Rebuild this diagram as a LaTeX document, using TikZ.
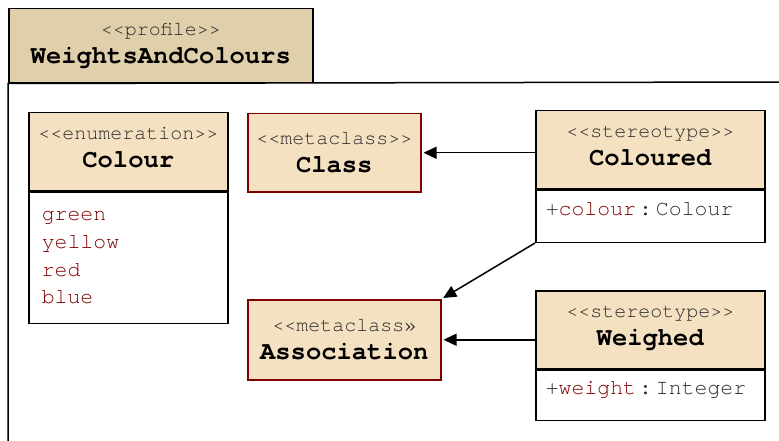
\documentclass[tikz,border=0pt]{standalone}
\usepackage{fontspec}
\setmonofont{TeX Gyre Cursor}
\usetikzlibrary{positioning,arrows.meta}

\definecolor{headfill}{HTML}{F4E1C1}
\definecolor{tabfill}{HTML}{E0CFAB}
\definecolor{metared}{HTML}{800000}
\definecolor{attrred}{HTML}{800000}
\definecolor{stereogrey}{HTML}{2A2A2A}

\newcommand{\stereo}[1]{{\fontsize{20}{28}\selectfont\color{stereogrey}#1}}
\newcommand{\uname}[1]{{\fontsize{25.5}{28}\selectfont\bfseries #1}}
\newcommand{\attr}[2]{{\color{stereogrey}+}\textcolor{attrred}{#1}{\color{stereogrey}\hspace{3pt}:\hspace{4pt}#2}}

\begin{document}
\begin{tikzpicture}[x=1pt,y=-1pt,
  every node/.style={font=\ttfamily\fontsize{20}{28}\selectfont, inner sep=0pt},
  tabbox/.style={draw, line width=1.5pt, fill=tabfill, align=center, anchor=north west},
  umlhead/.style={draw, line width=1.5pt, fill=headfill, align=center, anchor=north west, minimum height=78pt},
  metabox/.style={umlhead, draw=metared},
  umlbody/.style={draw, line width=1.5pt, fill=white, align=left, anchor=north west, inner xsep=10pt,
    font=\ttfamily\fontsize{21.5}{27.7}\selectfont},
  realize/.style={-{Triangle[length=13pt,width=12pt]}, line width=1.5pt, shorten >=2pt}]
\useasboundingbox (0,0) rectangle (779,441);

% package tab and frame
\node[tabbox, minimum width=304pt, minimum height=74pt] (profile) at (8,8)
  {\stereo{<<profile>>}\\\uname{WeightsAndColours}};
\draw[line width=1.5pt] (8,445) -- (profile.south west) -- (783,82);

% enumeration
\node[umlhead, minimum width=199pt, text depth=8pt] (colourhead) at (28,112)
  {\stereo{<<enumeration>>}\\\uname{Colour}};
\node[umlbody, inner xsep=13pt, text width=173pt, minimum height=131pt, text=attrred] (colourbody)
  at (colourhead.south west) {green\\yellow\\red\\blue};

% metaclasses
\node[metabox, minimum width=173pt] (classbox) at (247,113)
  {\stereo{<<metaclass>>}\\\uname{Class}};
\node[metabox, minimum width=193pt, minimum height=80pt] (assocbox) at (247,299)
  {\stereo{<<metaclass»}\\\uname{Association}};

% stereotypes
\node[umlhead, minimum width=229pt, text depth=7pt] (colouredhead) at (535,110)
  {\stereo{<<stereotype>>}\\\uname{Coloured}};
\node[umlbody, text width=209pt, minimum height=52pt, text depth=14pt] (colouredbody)
  at (colouredhead.south west) {\attr{colour}{Colour}};

\node[umlhead, minimum width=229pt, text depth=7pt] (weighedhead) at (535,290)
  {\stereo{<<stereotype>>}\\\uname{Weighed}};
\node[umlbody, text width=209pt, minimum height=50pt, text depth=14pt] (weighedbody)
  at (weighedhead.south west) {\attr{weight}{Integer}};

% extensions
\draw[realize] (colouredhead.west |- classbox.east) -- (classbox.east);
\draw[realize] (colouredbody.south west) -- (assocbox.north east);
\draw[realize] (weighedhead.west |- assocbox.east) -- (assocbox.east);
\end{tikzpicture}
\end{document}
